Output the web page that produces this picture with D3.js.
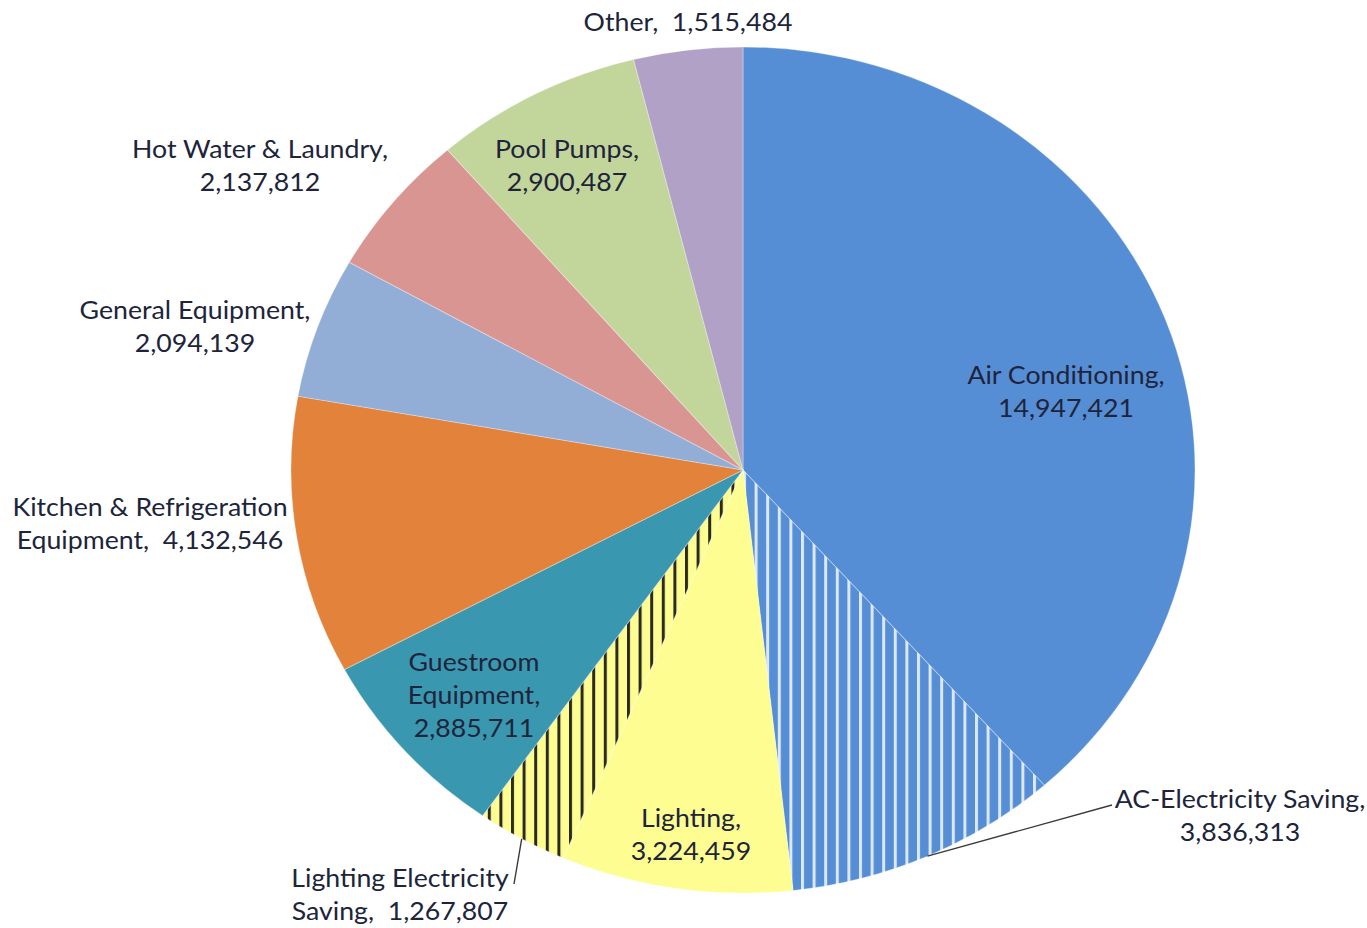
<!DOCTYPE html>
<html>
<head>
<meta charset="utf-8">
<script src="https://cdn.jsdelivr.net/npm/d3@7"></script>
<style>
  body { margin: 0; background: #fff; }
  text { font-family: Lato, "Open Sans", sans-serif; }
</style>
</head>
<body>
<div id="main"></div>
<script>
// data
var categories = ["Air Conditioning", "AC-Electricity Saving", "Lighting", "Lighting Electricity Saving",
                  "Guestroom Equipment", "Kitchen & Refrigeration Equipment", "General Equipment",
                  "Hot Water & Laundry", "Pool Pumps", "Other"];
var values = [14947421, 3836313, 3224459, 1267807, 2885711, 4132546, 2094139, 2137812, 2900487, 1515484];
var colors = ["#558ed5", "url(#hatchBlue)", "#fdfd92", "url(#hatchYellow)", "#3a97b0",
              "#e2823b", "#93aed6", "#d99592", "#c2d59b", "#b1a1c7"];

var ctx = {
    w: 1367,
    h: 928,
    cx: 743,
    cy: 470,
    ry: 423,
    rx: 452,
    fontSize: 25,
    lineH: 33,
    textColor: "#20243a",
};

// where each label sits: centre of its text block, and how its lines are built
var labelLayout = [
    {x: 1066, y: 392, lines: (n, v) => [n + ",", v]},
    {x: 1240, y: 816, lines: (n, v) => [n + ",", v], leader: [1112, 805]},
    {x: 691,  y: 835, lines: (n, v) => [n + ",", v]},
    {x: 400,  y: 895, lines: (n, v) => ["Lighting Electricity", "Saving,  " + v], leader: [514, 884]},
    {x: 474,  y: 695, lines: (n, v) => ["Guestroom", "Equipment,", v]},
    {x: 150,  y: 524, lines: (n, v) => ["Kitchen & Refrigeration", "Equipment,  " + v]},
    {x: 195,  y: 327, lines: (n, v) => [n + ",", v]},
    {x: 260,  y: 166, lines: (n, v) => [n + ",", v]},
    {x: 567,  y: 166, lines: (n, v) => [n + ",", v]},
    {x: 688,  y: 22,  lines: (n, v) => [n + ",  " + v]},
];

var addPatterns = function(svgEl){
    var defs = svgEl.append("defs");
    var sx = ctx.rx / ctx.ry;
    var p1 = defs.append("pattern").attr("id", "hatchBlue")
        .attr("patternUnits", "userSpaceOnUse")
        .attr("width", 11.6 / sx).attr("height", 10);
    p1.append("rect").attr("width", 11.6 / sx).attr("height", 10).attr("fill", "#558ed5");
    p1.append("rect").attr("x", 0).attr("width", 3 / sx).attr("height", 10).attr("fill", "#dce8f6");
    var p2 = defs.append("pattern").attr("id", "hatchYellow")
        .attr("patternUnits", "userSpaceOnUse")
        .attr("width", 11.6 / sx).attr("height", 10);
    p2.append("rect").attr("width", 11.6 / sx).attr("height", 10).attr("fill", "#fdfd92");
    p2.append("rect").attr("x", 0).attr("width", 3 / sx).attr("height", 10).attr("fill", "#2a2a22");
};

var createPie = function(svgEl){
    var data = categories.map((c, i) => ({name: c, value: values[i], color: colors[i], layout: labelLayout[i]}));
    var pie = d3.pie().sort(null).value(d => d.value);
    var arc = d3.arc().innerRadius(0).outerRadius(ctx.ry);
    var arcs = pie(data);
    var sx = ctx.rx / ctx.ry;

    var g = svgEl.append("g")
        .attr("transform", "translate(" + ctx.cx + "," + ctx.cy + ") scale(" + sx + ",1)");
    g.selectAll("path").data(arcs).enter().append("path")
        .attr("d", arc)
        .attr("fill", d => d.data.color)
        .attr("stroke", "#ffffff")
        .attr("stroke-opacity", 0.3)
        .attr("stroke-width", 1);

    var fmt = d3.format(",");
    // leader lines from the rim at the slice's mid angle
    arcs.filter(d => d.data.layout.leader).forEach(function(d){
        var a = (d.startAngle + d.endAngle) / 2;
        var x0 = ctx.cx + Math.sin(a) * ctx.rx;
        var y0 = ctx.cy - Math.cos(a) * ctx.ry;
        svgEl.append("line")
            .attr("x1", x0).attr("y1", y0)
            .attr("x2", d.data.layout.leader[0]).attr("y2", d.data.layout.leader[1])
            .attr("stroke", "#3a3a3a").attr("stroke-width", 1.4);
    });

    // the source picture is stretched sideways, so the labels are too
    arcs.forEach(function(d){
        var lay = d.data.layout;
        var lines = lay.lines(d.data.name, fmt(d.data.value));
        var t = svgEl.append("text")
            .attr("transform", "translate(" + lay.x + "," + lay.y + ") scale(" + sx + ",1)")
            .attr("text-anchor", "middle")
            .attr("font-size", ctx.fontSize)
            .attr("fill", ctx.textColor);
        lines.forEach(function(l, i){
            t.append("tspan")
                .attr("x", 0)
                .attr("y", (i - (lines.length - 1) / 2) * ctx.lineH)
                .attr("dy", "0.35em")
                .attr("xml:space", "preserve")
                .text(l);
        });
    });
};

var createViz = function(){
    var svgEl = d3.select("#main").append("svg");
    svgEl.attr("width", ctx.w);
    svgEl.attr("height", ctx.h);
    addPatterns(svgEl);
    createPie(svgEl);
};

createViz();
</script>
</body>
</html>
